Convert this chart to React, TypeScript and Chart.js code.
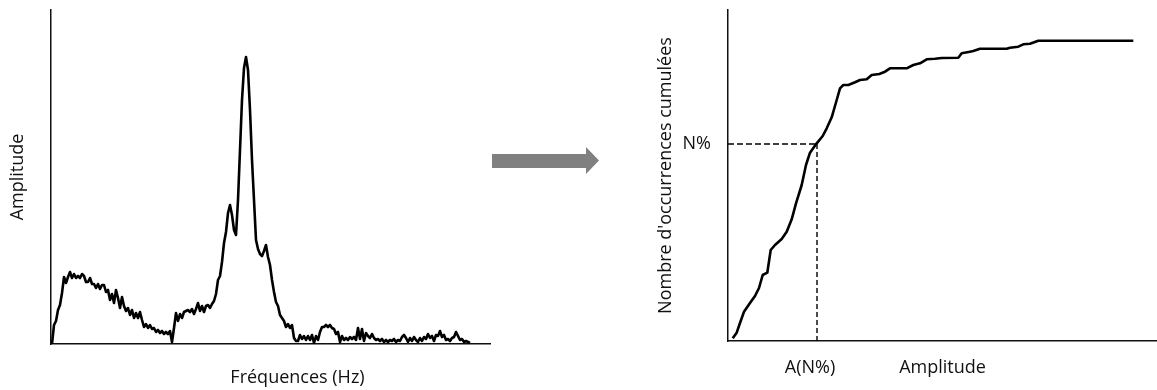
import React, { useEffect, useRef } from "react";
import { Chart, registerables } from "chart.js";

Chart.register(...registerables);

// ---- Left panel: spectrum (amplitude vs frequency, arbitrary units) ----
const SPECTRUM_AMPLITUDE = [
  0, 19, 23, 34, 39, 51, 67, 61, 67, 72,
  66, 70, 66, 68, 66, 70, 68, 62, 62, 66,
  60, 60, 56, 60, 55, 59, 59, 52, 54, 44,
  50, 41, 54, 46, 36, 47, 38, 33, 36, 29,
  34, 26, 31, 26, 32, 24, 17, 20, 16, 19,
  15, 16, 12, 14, 11, 13, 10, 12, 10, 13,
  2, 16, 31, 23, 30, 26, 32, 33, 34, 32,
  35, 30, 35, 41, 33, 38, 32, 38, 39, 36,
  40, 43, 50, 64, 68, 82, 101, 112, 131, 139,
  129, 114, 109, 144, 194, 244, 276, 287, 274, 234,
  184, 144, 104, 95, 90, 88, 93, 99, 87, 79,
  64, 52, 42, 38, 29, 26, 23, 17, 20, 16,
  19, 6, 3, 3, 9, 5, 8, 4, 8, 4,
  9, 1, 8, 4, 12, 17, 17, 19, 17, 19,
  16, 15, 10, 12, 2, 8, 4, 6, 4, 7,
  5, 7, 4, 16, 5, 15, 3, 11, 8, 6,
  10, 6, 4, 5, 3, 5, 2, 4, 2, 4,
  3, 5, 2, 4, 3, 7, 9, 6, 2, 6,
  3, 7, 4, 2, 6, 3, 7, 5, 10, 6,
  8, 3, 9, 8, 13, 7, 9, 4, 5, 3,
  6, 7, 12, 8, 4, 5, 2, 3, 2, 1,
];
const SPECTRUM_X_TITLE = "Fréquences (Hz)";
const SPECTRUM_Y_TITLE = "Amplitude";

// ---- Right panel: cumulative occurrences vs amplitude ----
const CUM_AMPLITUDE = [
  4.7, 8.7, 12, 16, 22, 27, 31, 34.7, 39.3, 42.7,
  47, 53.7, 58.7, 63.7, 68, 73.7, 78, 82, 88.7, 94.7,
  98.7, 103.7, 108.7, 112, 115.3, 120.3, 127, 132, 138.7, 143.7,
  151.3, 157, 162, 168.7, 178.7, 185.3, 192, 198.7, 207, 213.7,
  230.3, 233.7, 242, 245.3, 252, 265.3, 278.7, 282, 290.3, 295.3,
  302, 310.3, 405.3,
];
const CUM_COUNT = [
  2.7, 8.3, 18, 29.3, 38, 45, 53, 66, 68.3, 91,
  96, 102, 109.3, 121.7, 137.7, 156, 176, 188.3, 197.7, 205,
  212.7, 223.7, 241, 252.7, 256, 256, 258.7, 261, 261.7, 266,
  267, 269.3, 272.7, 272.7, 272.7, 276, 277.7, 281.7, 282.3, 283,
  283.3, 287.7, 289.3, 290, 292.3, 292.3, 292.3, 293.3, 294.3, 296.7,
  297.3, 300.3, 300.3,
];
const N_LEVEL = 197;
const A_AT_N = 89;
const N_LABEL = "N%";
const A_LABEL = "A(N%)";
const CUM_X_TITLE = "Amplitude";
const CUM_Y_TITLE = "Nombre d'occurrences cumulées";

const FONT_FAMILY = "'Open Sans', 'Noto Sans', sans-serif";
const TEXT_COLOR = "#111";
const AXIS_COLOR = "#111";

const titleFont = { family: FONT_FAMILY, size: 18, lineHeight: 1.2 };

// Draws the spectrum's x title slightly right of the axis centre, as in the reference.
const offsetXTitle = {
  id: "offsetXTitle",
  afterDraw(chart: any, _args: any, opts: any) {
    if (!opts || !opts.text) return;
    const { ctx, chartArea } = chart;
    ctx.save();
    ctx.font = `${titleFont.size}px ${FONT_FAMILY}`;
    ctx.fillStyle = TEXT_COLOR;
    ctx.textAlign = "center";
    ctx.textBaseline = "middle";
    const cx = (chartArea.left + chartArea.right) / 2 + opts.dx;
    ctx.fillText(opts.text, cx, chartArea.bottom + opts.dy);
    ctx.restore();
  },
};

export default function App() {
  const leftRef = useRef<HTMLCanvasElement | null>(null);
  const rightRef = useRef<HTMLCanvasElement | null>(null);

  useEffect(() => {
    const left = new Chart(leftRef.current as HTMLCanvasElement, {
      type: "line",
      data: {
        datasets: [
          {
            data: SPECTRUM_AMPLITUDE.map((v, i) => ({ x: i, y: v })),
            borderColor: "#000",
            borderWidth: 2.6,
            pointRadius: 0,
            tension: 0,
            fill: false,
            borderJoinStyle: "round",
          },
        ],
      },
      plugins: [offsetXTitle],
      options: {
        responsive: false,
        animation: false,
        devicePixelRatio: 1,
        events: [],
        layout: { padding: { left: 0, top: 10, right: 10, bottom: 0 } },
        plugins: {
          legend: { display: false },
          tooltip: { enabled: false },
          offsetXTitle: { text: SPECTRUM_X_TITLE, dx: 27, dy: 34 },
        } as any,
        scales: {
          x: {
            type: "linear",
            min: -0.5,
            max: 219,
            grid: { display: false, drawTicks: false },
            border: { display: true, color: AXIS_COLOR, width: 1.5 },
            ticks: { display: false },
            title: { display: false },
            afterFit: (s: any) => {
              s.height = 46;
              s.paddingLeft = 0;
              s.paddingRight = 0;
            },
          },
          y: {
            type: "linear",
            min: 0,
            max: 334,
            grid: { display: false, drawTicks: false },
            border: { display: true, color: AXIS_COLOR, width: 1.5 },
            ticks: { display: false },
            title: {
              display: true,
              text: SPECTRUM_Y_TITLE,
              font: titleFont,
              color: TEXT_COLOR,
              padding: { top: 7.2, bottom: 20 },
            },
            afterFit: (s: any) => {
              s.width = 51;
              s.paddingTop = 0;
              s.paddingBottom = 0;
            },
          },
        },
      },
    });

    const right = new Chart(rightRef.current as HTMLCanvasElement, {
      type: "line",
      data: {
        datasets: [
          {
            data: CUM_AMPLITUDE.map((x, i) => ({ x, y: CUM_COUNT[i] })),
            borderColor: "#000",
            borderWidth: 2.6,
            pointRadius: 0,
            tension: 0,
            fill: false,
            borderJoinStyle: "round",
          },
          {
            data: [
              { x: 0, y: N_LEVEL },
              { x: A_AT_N, y: N_LEVEL },
            ],
            borderColor: "#000",
            borderWidth: 1.4,
            borderDash: [6, 3],
            pointRadius: 0,
            fill: false,
          },
          {
            data: [
              { x: A_AT_N, y: N_LEVEL },
              { x: A_AT_N, y: 0 },
            ],
            borderColor: "#000",
            borderWidth: 1.4,
            borderDash: [5, 3],
            pointRadius: 0,
            fill: false,
          },
        ],
      },
      options: {
        responsive: false,
        animation: false,
        devicePixelRatio: 1,
        events: [],
        layout: { padding: { left: 0, top: 10, right: 0, bottom: 0 } },
        plugins: { legend: { display: false }, tooltip: { enabled: false } },
        scales: {
          x: {
            type: "linear",
            min: 0,
            max: 429,
            grid: { display: false, drawTicks: false },
            border: { display: true, color: AXIS_COLOR, width: 1.5 },
            afterBuildTicks: (s: any) => {
              s.ticks = [{ value: A_AT_N }];
            },
            ticks: {
              display: true,
              autoSkip: false,
              maxRotation: 0,
              callback: () => A_LABEL,
              font: titleFont,
              color: TEXT_COLOR,
              padding: 16.2,
              labelOffset: -7,
            },
            title: {
              display: true,
              text: CUM_X_TITLE,
              font: titleFont,
              color: TEXT_COLOR,
              padding: { top: 10, bottom: 11.2 },
            },
            afterFit: (s: any) => {
              s.height = 49;
              s.paddingLeft = 0;
              s.paddingRight = 0;
            },
          },
          y: {
            type: "linear",
            min: 0,
            max: 331,
            grid: { display: false, drawTicks: false },
            border: { display: true, color: AXIS_COLOR, width: 1.5 },
            afterBuildTicks: (s: any) => {
              s.ticks = [{ value: N_LEVEL }];
            },
            ticks: {
              display: true,
              autoSkip: false,
              callback: () => N_LABEL,
              font: titleFont,
              color: TEXT_COLOR,
              padding: 17,
            },
            title: {
              display: true,
              text: CUM_Y_TITLE,
              font: titleFont,
              color: TEXT_COLOR,
              padding: { top: 55.2, bottom: 20 },
            },
            afterFit: (s: any) => {
              s.width = 128;
              s.paddingTop = 0;
              s.paddingBottom = 0;
            },
          },
        },
      },
    });

    return () => {
      left.destroy();
      right.destroy();
    };
  }, []);

  return (
    <div style={{ position: "absolute", left: 0, top: 0, width: 1157, height: 390, background: "#fff" }}>
      <canvas
        ref={leftRef}
        width={500}
        height={390}
        style={{ position: "absolute", left: 0, top: 0, width: 500, height: 390 }}
      />
      <div
        style={{
          position: "absolute",
          left: 492,
          top: 147,
          width: 107,
          height: 27,
          background: "#808080",
          clipPath: "polygon(0px 7px, 94px 7px, 94px 0px, 107px 13.5px, 94px 27px, 94px 21px, 0px 21px)",
        }}
      />
      <canvas
        ref={rightRef}
        width={557}
        height={390}
        style={{ position: "absolute", left: 600, top: 0, width: 557, height: 390 }}
      />
    </div>
  );
}
